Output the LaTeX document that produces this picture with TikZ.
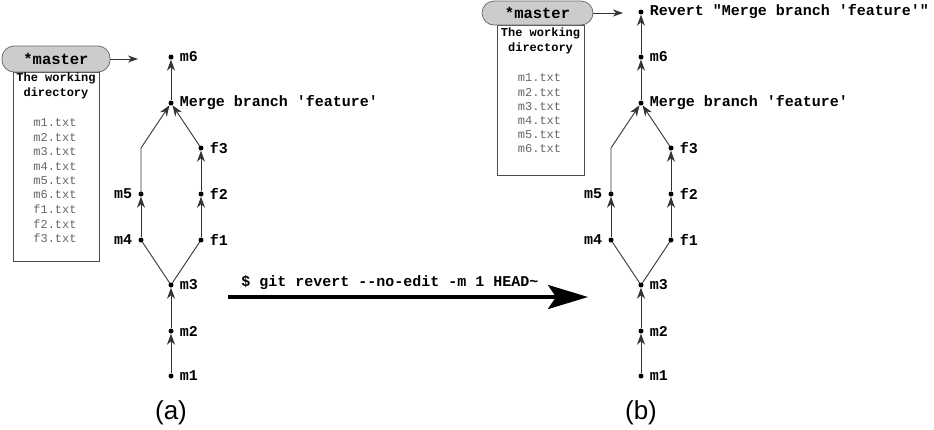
\documentclass[tikz,border=0pt]{standalone}
\usepackage{fontspec}
\setmainfont{Liberation Sans}
\setmonofont{Liberation Mono}
\usepackage{tikz}
\usetikzlibrary{arrows.meta,positioning,shapes}

\begin{document}
\begin{tikzpicture}[x=1pt,y=-1pt,
    commit/.style={circle,fill=black,inner sep=0pt,minimum size=5pt},
    lbl/.style={font=\fontsize{15}{18}\ttfamily\bfseries,inner sep=1pt,label distance=5pt},
    edge/.style={black!80,line width=0.9pt},
    up/.style={edge,-{Stealth[length=11pt,width=8pt,inset=3.5pt]}},
    pill/.style={draw=black!60,fill=black!20,rounded corners=12pt,line width=0.7pt,
                 font=\fontsize{15.5}{18}\ttfamily\bfseries},
    wdbox/.style={draw=black!70,line width=0.7pt,minimum width=86pt,inner sep=0pt},
    wdhead/.style={font=\fontsize{12}{14}\ttfamily\bfseries,inner sep=0pt},
    wdfile/.style={font=\fontsize{12}{14}\ttfamily,text=black!60,inner sep=0pt},
    ptr/.style={black!80,line width=0.8pt,-{Stealth[length=10pt,width=7pt,inset=3pt]}},
    bigarrow/.style={black,line width=3.5pt,-{Stealth[length=40pt,width=24pt,inset=8pt]}},
    caption/.style={font=\fontsize{26}{30}\selectfont}]
    \useasboundingbox (0,0) rectangle (934,429);

    % Commit graphs
    \foreach \dx/\g in {0/a,470/b} {
        \begin{scope}[xshift=\dx pt]
            \node[commit,label={[lbl]right:m1}] (\g m1) at (171,376) {};
            \node[commit,label={[lbl]right:m2}] (\g m2) at (171,331) {};
            \node[commit,label={[lbl]right:m3}] (\g m3) at (171,285) {};
            \node[commit,label={[lbl]left:m4}] (\g m4) at (141,240) {};
            \node[commit,label={[lbl]left:m5}] (\g m5) at (141,194) {};
            \node[commit,label={[lbl]right:f1}] (\g f1) at (201,240) {};
            \node[commit,label={[lbl]right:f2}] (\g f2) at (201,194) {};
            \node[commit,label={[lbl]right:f3}] (\g f3) at (201,148) {};
            \node[commit,label={[lbl]right:Merge branch 'feature'}] (\g merge) at (171,103) {};
            \node[commit,label={[lbl]right:m6}] (\g m6) at (171,57) {};

            \draw[up] (\g m1) -- (\g m2);
            \draw[up] (\g m2) -- (\g m3);
            \draw[edge] (\g m3) -- (\g m4);
            \draw[edge] (\g m3) -- (\g f1);
            \draw[up] (\g m4) -- (\g m5);
            \draw[up] (\g f1) -- (\g f2);
            \draw[up] (\g f2) -- (\g f3);
            \draw[up] (\g m5.center) -- (\g m5 |- \g f3) -- (\g merge);
            \draw[up] (\g f3) -- (\g merge);
            \draw[up] (\g merge) -- (\g m6);
        \end{scope}
    }

    % Revert commit
    \node[commit,label={[lbl]right:Revert "Merge branch 'feature'"}] (brev) at (641,12) {};
    \draw[up] (bm6) -- (brev);

    % Working directory (a)
    \node[wdbox,minimum height=189pt,anchor=north] (awd) at (56,72) {};
    \node[pill,minimum width=108pt,minimum height=26pt] (amaster) at (56,59) {*master};
    \node[wdhead] (ahead1) at (56,78) {The working};
    \node[wdhead] (ahead2) at (56,93) {directory};
    \foreach \f [count=\i] in {m1,m2,m3,m4,m5,m6,f1,f2,f3}
        \node[wdfile] (afile\i) at (55,108.6+14.4*\i) {\f.txt};
    \coordinate (atip) at (138,59);
    \draw[ptr] (amaster) -- (atip);

    % Working directory (b)
    \node[wdbox,minimum height=150pt,anchor=north,minimum width=87pt] (bwd) at (540.5,25) {};
    \node[pill,minimum width=111pt,minimum height=24pt] (bmaster) at (537.5,13) {*master};
    \node[wdhead] (bhead1) at (540.5,33) {The working};
    \node[wdhead] (bhead2) at (540.5,48) {directory};
    \foreach \f [count=\i] in {m1,m2,m3,m4,m5,m6}
        \node[wdfile] (bfile\i) at (539.5,63.8+14.2*\i) {\f.txt};
    \coordinate (btip) at (623,13);
    \draw[ptr] (bmaster) -- (btip);

    % Revert command
    \coordinate (cmdL) at (228,297);
    \coordinate (cmdR) at (588,297);
    \draw[bigarrow] (cmdL) -- node[pos=0.45,above=2pt,font=\fontsize{15}{18}\ttfamily\bfseries] (cmd) {\$ git revert --no-edit -m 1 HEAD\textasciitilde} (cmdR);

    % Captions
    \node[caption] (capa) at (171,413) {(a)};
    \node[caption] (capb) at (641,413) {(b)};
\end{tikzpicture}
\end{document}
